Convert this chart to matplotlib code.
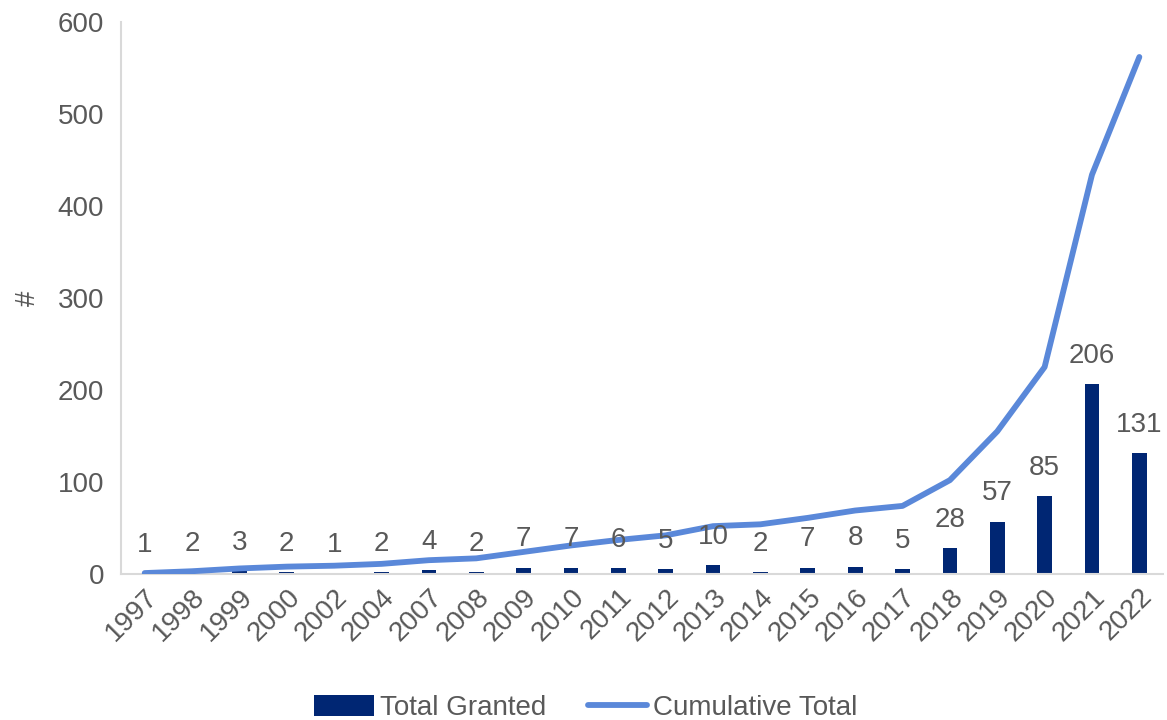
import matplotlib
matplotlib.use("Agg")
import matplotlib.pyplot as plt
from matplotlib.patches import Patch
from matplotlib.lines import Line2D

plt.rcParams['font.family'] = ['Liberation Sans', 'DejaVu Sans']

years = ["1997", "1998", "1999", "2000", "2002", "2004", "2007", "2008", "2009",
         "2010", "2011", "2012", "2013", "2014", "2015", "2016", "2017", "2018",
         "2019", "2020", "2021", "2022"]
granted = [1, 2, 3, 2, 1, 2, 4, 2, 7, 7, 6, 5, 10, 2, 7, 8, 5, 28, 57, 85, 206, 131]
cumulative = [1, 3, 6, 8, 9, 11, 15, 17, 24, 31, 37, 42, 52, 54, 61, 69, 74, 102,
              155, 225, 434, 562]
y_ticks = [0, 100, 200, 300, 400, 500, 600]

bar_color = "#002673"
line_color = "#5A88D9"
text_color = "#595959"
axis_color = "#D9D9D9"
fs = 20

fig = plt.figure(figsize=(11.67, 7.2), dpi=100)
ax = fig.add_axes([0.1037, 0.2028, 0.8929, 0.7666])

x = list(range(len(years)))
ax.bar(x, granted, width=0.31, color=bar_color, zorder=2)
ax.plot(x, cumulative, color=line_color, linewidth=4.2, solid_capstyle='round',
        solid_joinstyle='round', zorder=3)

for xi, v in zip(x, granted):
    ax.annotate(str(v), (xi, v), xytext=(0, 11), textcoords='offset points',
                ha='center', va='bottom', fontsize=fs, color=text_color, zorder=4)

ax.set_xlim(-0.5, len(years) - 0.5)
ax.set_ylim(0, 600)
ax.set_yticks(y_ticks)
ax.set_yticklabels([str(t) for t in y_ticks], fontsize=fs, color=text_color)
ax.set_xticks(x)
ax.set_xticklabels(years, fontsize=fs, color=text_color, rotation=45,
                   ha='right', va='top', rotation_mode='anchor')
ax.tick_params(axis='both', length=0)
ax.tick_params(axis='y', pad=12)
ax.tick_params(axis='x', pad=7)

for side in ("top", "right"):
    ax.spines[side].set_visible(False)
for side in ("left", "bottom"):
    ax.spines[side].set_color(axis_color)
    ax.spines[side].set_linewidth(1.5)

ax.set_ylabel("#", fontsize=fs, color=text_color, labelpad=12)

handles = [Patch(facecolor=bar_color, edgecolor='none'),
           Line2D([0], [0], color=line_color, linewidth=4.2, solid_capstyle='round')]
fig.legend(handles, ["Total Granted", "Cumulative Total"], loc='lower center',
           bbox_to_anchor=(0.502, -0.036), ncol=2, frameon=False, fontsize=fs,
           labelcolor=text_color, handlelength=2.15, handleheight=0.8,
           handletextpad=0.2, columnspacing=1.5)

fig.savefig("out.png", dpi=100, facecolor="white")
